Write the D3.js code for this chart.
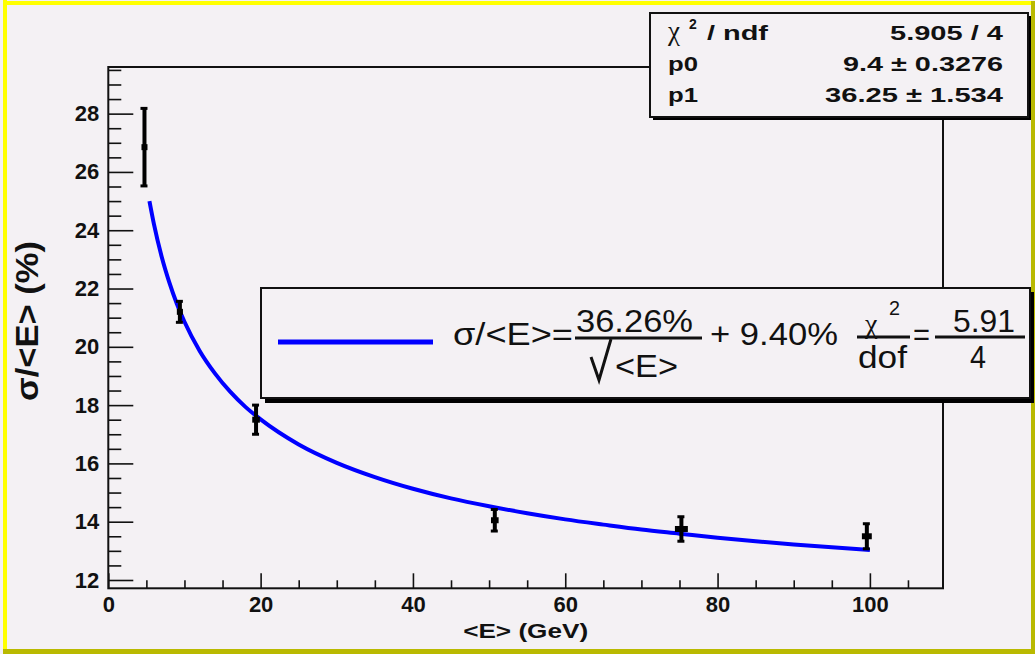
<!DOCTYPE html>
<html>
<head>
<meta charset="utf-8">
<script src="https://cdn.jsdelivr.net/npm/d3@7/dist/d3.min.js"></script>
<style>
  body { margin: 0; background: #f4f1f4; }
  svg { display: block; }
</style>
</head>
<body>
<div class="container"></div>
<script>
// measured points (mean energy vs relative resolution)
const energy = [4.75, 9.4, 19.4, 50.75, 75.25, 99.6]
const energyErr = [0.3, 0.4, 0.5, 0.5, 0.85, 0.65]
const resolution = [26.85, 21.2, 17.5, 14.05, 13.75, 13.5]
const resolutionErr = [1.33, 0.36, 0.5, 0.37, 0.42, 0.43]

// fit curve
const fitE = [5.4, 6, 7, 8, 9, 10, 12, 14, 16, 18, 20, 25, 30, 35, 40, 45, 50, 55, 60, 65, 70, 75, 80, 85, 90, 95, 100]
const fitRes = [25.0, 24.2, 23.1, 22.22, 21.48, 20.86, 19.86, 19.09, 18.46, 17.94, 17.51, 16.65, 16.02, 15.53, 15.13, 14.8, 14.53, 14.29, 14.08, 13.9, 13.73, 13.59, 13.45, 13.33, 13.22, 13.12, 13.03]

const xMajor = [0, 20, 40, 60, 80, 100]
const yMajor = [12, 14, 16, 18, 20, 22, 24, 26, 28]

const statsLabels = ["p0", "p1"]
const statsValues = ["9.4 \u00b1 0.3276", "36.25 \u00b1 1.534"]

let width = 1035
let height = 654
let frame = { left: 108.3, right: 943, top: 67, bottom: 588.3 }
let sans = "'Liberation Sans', Arial, Helvetica, sans-serif"
let serif = "'Liberation Serif', 'Times New Roman', serif"
let ink = "#111"

let svg = d3.select(".container")
  .append("svg")
  .attr("width", width)
  .attr("height", height)

// canvas background and bevel border
svg.append("rect").attr("width", width).attr("height", height).attr("fill", "#f4f1f4")
svg.append("rect").attr("x", 3).attr("y", 0).attr("width", 4).attr("height", 650).attr("fill", "#ffff00")
svg.append("rect").attr("x", 3).attr("y", 1).attr("width", 1032).attr("height", 4).attr("fill", "#ffff00")
svg.append("rect").attr("x", 3).attr("y", 649).attr("width", 1032).attr("height", 5).attr("fill", "#b9b900")
svg.append("rect").attr("x", 1031).attr("y", 1).attr("width", 4).attr("height", 653).attr("fill", "#b9b900")

let x = d3.scaleLinear().domain([0, 109.6]).range([frame.left, frame.right])
let y = d3.scaleLinear().domain([11.715, 29.6]).range([frame.bottom, frame.top])

// minor ticks
let xMinor = d3.range(0, 106, 5).filter(function (d) { return xMajor.indexOf(d) < 0 })
let yMinor = d3.range(12, 29.6, 0.5).filter(function (d) { return yMajor.indexOf(d) < 0 })

svg.append("g")
  .attr("transform", `translate(0,${frame.bottom})`)
  .call(d3.axisBottom(x).tickValues(xMinor).tickSize(-8).tickFormat(""))
  .call(function (g) { g.select(".domain").remove() })

svg.append("g")
  .attr("transform", `translate(${frame.left},0)`)
  .call(d3.axisLeft(y).tickValues(yMinor).tickSize(-13).tickFormat(""))
  .call(function (g) { g.select(".domain").remove() })

svg.append("g")
  .attr("transform", `translate(0,${frame.bottom})`)
  .call(d3.axisBottom(x).tickValues(xMajor).tickSize(-15).tickPadding(8).tickFormat(d3.format("d")))
  .call(function (g) { g.select(".domain").remove() })

svg.append("g")
  .attr("transform", `translate(${frame.left},0)`)
  .call(d3.axisLeft(y).tickValues(yMajor).tickSize(-25).tickPadding(9).tickFormat(d3.format("d")))
  .call(function (g) { g.select(".domain").remove() })

svg.selectAll(".tick line").attr("stroke", ink).attr("stroke-width", 1.6)
svg.selectAll(".tick text")
  .attr("fill", ink)
  .attr("font-family", sans)
  .attr("font-weight", "bold")
  .attr("font-size", "22px")

// frame
svg.append("rect")
  .attr("x", frame.left).attr("y", frame.top)
  .attr("width", frame.right - frame.left).attr("height", frame.bottom - frame.top)
  .attr("fill", "none").attr("stroke", ink).attr("stroke-width", 2)

// axis titles
svg.append("text")
  .attr("x", (frame.left + frame.right) / 2).attr("y", 638)
  .attr("text-anchor", "middle")
  .attr("font-family", sans).attr("font-weight", "bold").attr("font-size", "20px")
  .attr("textLength", 125).attr("lengthAdjust", "spacingAndGlyphs")
  .attr("fill", ink)
  .text("<E> (GeV)")

// the y title is stretched sideways like the rest of the canvas
svg.append("text")
  .attr("transform", "translate(27,321) rotate(-90) scale(1,1.45)")
  .attr("text-anchor", "middle")
  .attr("dy", "0.35em")
  .attr("font-family", sans).attr("font-weight", "bold").attr("font-size", "22px")
  .attr("textLength", 160).attr("lengthAdjust", "spacingAndGlyphs")
  .attr("fill", ink)
  .text("\u03c3/<E>  (%)")

// fit curve
let fitData = fitE.map(function (e, i) { return { e: e, r: fitRes[i] } })
svg.append("path")
  .datum(fitData)
  .attr("fill", "none")
  .attr("stroke", "#0000ff")
  .attr("stroke-width", 4)
  .attr("d", d3.line()
    .x(function (d) { return x(d.e) })
    .y(function (d) { return y(d.r) })
    .curve(d3.curveMonotoneX))

// data points with error bars
let points = energy.map(function (e, i) {
  return { e: e, ex: energyErr[i], r: resolution[i], rx: resolutionErr[i] }
})

let pts = svg.selectAll(".point")
  .data(points)
  .enter()
  .append("g")
  .attr("class", "point")

pts.append("line")
  .attr("x1", function (d) { return x(d.e) })
  .attr("x2", function (d) { return x(d.e) })
  .attr("y1", function (d) { return y(d.r + d.rx) })
  .attr("y2", function (d) { return y(d.r - d.rx) })
  .attr("stroke", "#000").attr("stroke-width", 4)

pts.selectAll(".cap")
  .data(function (d) { return [d.r + d.rx, d.r - d.rx].map(function (v) { return { e: d.e, v: v } }) })
  .enter()
  .append("line")
  .attr("class", "cap")
  .attr("x1", function (d) { return x(d.e) - 4 })
  .attr("x2", function (d) { return x(d.e) + 3 })
  .attr("y1", function (d) { return y(d.v) })
  .attr("y2", function (d) { return y(d.v) })
  .attr("stroke", "#000").attr("stroke-width", 3)

pts.append("rect")
  .attr("x", function (d) { return Math.min(x(d.e - d.ex), x(d.e) - 3) })
  .attr("y", function (d) { return y(d.r) - 3 })
  .attr("width", function (d) { return Math.max(x(d.e + d.ex) - x(d.e - d.ex), 6) })
  .attr("height", 6)
  .attr("fill", "#000")

// stats box
let stats = svg.append("g")
stats.append("rect").attr("x", 653).attr("y", 16).attr("width", 378).attr("height", 104).attr("fill", "#000")
stats.append("rect").attr("x", 650).attr("y", 13).attr("width", 378).attr("height", 104)
  .attr("fill", "#f4f1f4").attr("stroke", ink).attr("stroke-width", 2)

stats.append("text")
  .attr("x", 668).attr("y", 40)
  .attr("font-family", serif).attr("font-size", "27px").attr("fill", ink)
  .text("\u03c7")
stats.append("text")
  .attr("x", 689).attr("y", 29)
  .attr("font-family", sans).attr("font-weight", "bold").attr("font-size", "14px").attr("fill", ink)
  .text("2")
stats.append("text")
  .attr("x", 707).attr("y", 39.5)
  .attr("font-family", sans).attr("font-weight", "bold").attr("font-size", "20px").attr("fill", ink)
  .attr("textLength", 61).attr("lengthAdjust", "spacingAndGlyphs")
  .text("/ ndf")

stats.append("text")
  .attr("x", 1003).attr("y", 39.5).attr("text-anchor", "end")
  .attr("font-family", sans).attr("font-weight", "bold").attr("font-size", "20px").attr("fill", ink)
  .attr("textLength", 113).attr("lengthAdjust", "spacingAndGlyphs")
  .text("5.905  / 4")

let valueWidths = [160, 178]
statsLabels.forEach(function (lab, i) {
  let yy = 71 + i * 30.5
  stats.append("text")
    .attr("x", 668).attr("y", yy)
    .attr("font-family", sans).attr("font-weight", "bold").attr("font-size", "20px").attr("fill", ink)
    .attr("textLength", 30).attr("lengthAdjust", "spacingAndGlyphs")
    .text(lab)
  stats.append("text")
    .attr("x", 1003).attr("y", yy).attr("text-anchor", "end")
    .attr("font-family", sans).attr("font-weight", "bold").attr("font-size", "20px").attr("fill", ink)
    .attr("textLength", valueWidths[i]).attr("lengthAdjust", "spacingAndGlyphs")
    .text(statsValues[i])
})

// legend box
let leg = svg.append("g")
leg.append("rect").attr("x", 265).attr("y", 292).attr("width", 769).attr("height", 111).attr("fill", "#000")
leg.append("rect").attr("x", 261).attr("y", 288).attr("width", 769).attr("height", 110)
  .attr("fill", "#f4f1f4").attr("stroke", ink).attr("stroke-width", 2)

leg.append("line")
  .attr("x1", 278).attr("x2", 433).attr("y1", 342).attr("y2", 342)
  .attr("stroke", "#0000ff").attr("stroke-width", 5)

function legText(str, x0, w, yy, anchor, size) {
  return leg.append("text")
    .attr("x", x0).attr("y", yy)
    .attr("text-anchor", anchor || "start")
    .attr("font-family", sans).attr("font-size", (size || 31) + "px").attr("fill", ink)
    .attr("textLength", w).attr("lengthAdjust", "spacingAndGlyphs")
    .text(str)
}

legText("\u03c3/<E>=", 453, 120, 345)
legText("36.26%", 576, 117, 332)
leg.append("line").attr("x1", 575).attr("x2", 702).attr("y1", 338).attr("y2", 338)
  .attr("stroke", ink).attr("stroke-width", 3)
leg.append("path").attr("d", "M591,357 L599,380 L611,339")
  .attr("fill", "none").attr("stroke", ink).attr("stroke-width", 3)
legText("<E>", 615, 63, 377)
legText("+ 9.40%", 710, 128, 345)

leg.append("text")
  .attr("x", 865).attr("y", 333)
  .attr("font-family", serif).attr("font-size", "28px").attr("fill", ink)
  .text("\u03c7")
legText("2", 889, 11, 315, "start", 20)
leg.append("line").attr("x1", 857).attr("x2", 910).attr("y1", 337).attr("y2", 337)
  .attr("stroke", ink).attr("stroke-width", 3)
legText("dof", 858, 49, 368)
legText("=", 913, 17, 345)
legText("5.91", 953, 62, 332)
leg.append("line").attr("x1", 935).attr("x2", 1025).attr("y1", 337).attr("y2", 337)
  .attr("stroke", ink).attr("stroke-width", 3)
legText("4", 978, 16, 368, "middle")
</script>
</body>
</html>
